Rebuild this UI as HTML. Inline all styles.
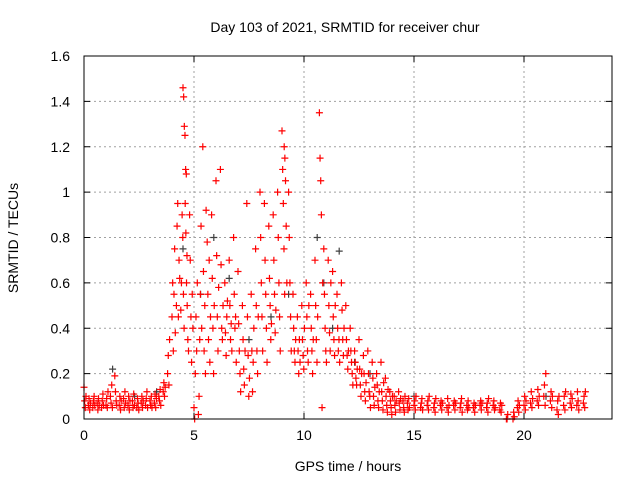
<!DOCTYPE html>
<html><head><meta charset="utf-8"><style>
body{margin:0;background:#fff}
svg text{font-family:"Liberation Sans",sans-serif;font-size:14px;fill:#000}
</style></head><body>
<svg id="c" width="640" height="480">
<text x="345" y="32" text-anchor="middle">Day 103 of 2021, SRMTID for receiver chur</text>
<text x="348" y="471" text-anchor="middle">GPS time / hours</text>
<text transform="translate(18,238) rotate(-90)" text-anchor="middle">SRMTID / TECUs</text>
<g id="grid"></g><g id="gray"></g><g id="red"></g><g id="axes"></g>
</svg>
<script>
const xTicks=[0,5,10,15,20];
const yTicks=[0,0.2,0.4,0.6,0.8,1,1.2,1.4,1.6];
const yTickLabels=["0","0.2","0.4","0.6","0.8","1","1.2","1.4","1.6"];
const redT=[0,0.2,0.4,0.6,0.8,1.0,1.2,1.4,1.6,1.8,2.0,2.2,2.4,2.6,2.8,3.0,3.2,3.4,3.6,3.8,4.0,4.2,4.4,4.5,4.6,4.8,5.0,5.2,5.4,5.6,5.8,6.0,6.2,6.4,6.6,6.8,7.0,7.2,7.4,7.6,7.8,8.0,8.2,8.4,8.6,8.8,9.0,9.1,9.3,9.5,9.7,9.9,10.1,10.3,10.5,10.7,10.9,11.1,11.3,11.5,11.7,11.9,12.1,12.3,12.5,12.7,12.9,13.1,13.3,13.5,13.7,13.9,14.1,14.3,14.5,14.7,15.0,15.3,15.6,15.9,16.2,16.5,16.8,17.1,17.4,17.7,18.0,18.3,18.6,18.9,19.2,19.5,19.7,20.0,20.3,20.6,20.9,21.2,21.5,21.8,22.1,22.4,22.7];
const redV=[[.14,.08,.05,.1],[.06,.09,.04,.07],[.05,.08,.1,.06],[.07,.04,.09,.06],[.05,.08,.11,.06],[.06,.09,.05,.12],[.1,.07,.15,.05],[.19,.12,.08,.06],[.06,.1,.04,.08],[.09,.05,.12,.07],[.06,.1,.04,.08],[.08,.05,.11,.06],[.05,.09,.07,.04],[.07,.1,.05,.08],[.06,.09,.12,.05],[.08,.06,.1,.05],[.07,.11,.05,.09],[.1,.08,.13,.06],[.12,.16,.1,.14],[.2,.28,.15,.35],[.45,.6,.3,.55,.75,.38],[.5,.85,.95,.45,.7,.62],[.48,.6,.9,.8,.55,.4],[1.46,1.42,1.29,1.25,1.1,1.08,.72],[.95,.82,.6,.5,.35,.3],[.9,.7,.45,.25,.55,.4],[.05,0,.2,.45,.3,.6],[.02,.1,.35,.55,.85,.4],[1.2,.65,.3,.5,.2,.92],[.78,.55,.35,.7,.25,.45],[.9,.62,.4,.2,.5],[1.05,.72,.45,.3,.58],[1.1,.68,.4,.35,.5],[.6,.38,.28,.45,.52],[.7,.5,.35,.42,.3],[.8,.55,.4,.45,.25],[.65,.42,.3,.2,.12],[.5,.35,.22,.15,.3],[.95,.45,.28,.1,.18],[.55,.3,.12,.25,.4],[.75,.5,.3,.2,.45],[1.0,.8,.6,.45,.3],[.95,.7,.55,.4,.25],[.85,.62,.5,.35,.42],[.9,.7,.55,.38,.48],[1.0,.8,.6,.45,.3],[1.27,1.1,.95,.75,.55],[1.2,1.15,1.05,.85,.6],[1.0,.8,.6,.45,.3],[.55,.4,.3,.25,.35],[.45,.3,.2,.35,.25],[.5,.35,.28,.22,.4],[.6,.45,.3,.25,.5],[.55,.4,.3,.2,.35],[.7,.5,.35,.25,.45],[1.35,1.15,1.05,.9,.05,.6],[.75,.55,.4,.3,.25],[.7,.5,.38,.3,.6],[.65,.45,.35,.28,.5],[.55,.4,.3,.35,.25],[.6,.48,.35,.28,.4],[.5,.35,.28,.22,.3],[.4,.3,.25,.2,.15],[.3,.25,.18,.15,.22],[.35,.22,.15,.1,.2],[.28,.2,.12,.08,.16],[.3,.2,.12,.1,.05],[.25,.18,.1,.06,.14],[.2,.15,.08,.05,.12],[.25,.12,.08,.04,.16],[.18,.1,.06,.03,.13],[.12,.08,.05,.02,.1],[.1,.06,.03,.08],[.12,.07,.04,.09],[.08,.05,.03,.1],[.07,.04,.09,.05],[.06,.08,.04,.1],[.05,.07,.09,.04],[.06,.08,.04,.1],[.05,.07,.03,.09],[.06,.08,.04,.07],[.05,.09,.03,.06],[.06,.08,.04,.07],[.05,.07,.09,.03],[.06,.04,.08,.05],[.05,.07,.03,.06],[.06,.08,.04,.07],[.05,.07,.03,.09],[.06,.08,.04,.05],[.04,.07,.03,.06],[0,0,.02],[0,.03,.01],[.05,.08,.03,.06],[.06,.1,.04,.08],[.07,.12,.05,.09],[.08,.13,.06,.1],[.1,.15,.06,.2],[.08,.12,.05,.1],[.04,.08,.02,.1],[.06,.1,.04,.12],[.07,.11,.05,.09],[.06,.12,.08,.04],[.07,.1,.05,.12]];
const grayT=[1.3,2.3,3.3,4.5,5.3,5.9,6.6,7.5,8.5,9.3,10.6,10.9,11.3,11.6,12.3,13.0,15.0,21.0];
const grayV=[.22,.1,.12,.75,.55,.8,.62,.35,.45,.55,.8,.6,.4,.74,.25,.2,.1,.1];
const L=84,R=612,T=56,B=419;
const xs=v=>L+v*(R-L)/24, ys=v=>B-v*(B-T)/1.6;
const NS='http://www.w3.org/2000/svg';
function mk(tag,attrs,parent){const e=document.createElementNS(NS,tag);for(const k in attrs)e.setAttribute(k,attrs[k]);parent.appendChild(e);return e;}
const grid=document.getElementById('grid'),axes=document.getElementById('axes');
xTicks.forEach(t=>{const x=xs(t);
 if(t>0){const g=mk('line',{x1:x,x2:x,y1:T,y2:B,stroke:'#a0a0a0','stroke-dasharray':'2,3'},grid);
 
 }
 const k=mk('line',{x1:x,x2:x,y1:B,y2:B-6,stroke:'#000'},axes);
 
 
 const k2=mk('line',{x1:x,x2:x,y1:T,y2:T+6,stroke:'#000'},axes);
 
 
 const tx=mk('text',{x:x,y:B+21,'text-anchor':'middle'},axes);tx.textContent=String(t);
 
 
});
yTicks.forEach((t,i)=>{const y=ys(t);
 if(t>0&&t<1.6){const g=mk('line',{x1:L,x2:R,y1:y,y2:y,stroke:'#a0a0a0','stroke-dasharray':'2,3'},grid);
 
 }
 const k=mk('line',{x1:L,x2:L+6,y1:y,y2:y,stroke:'#000'},axes);
 
 
 const k2=mk('line',{x1:R,x2:R-6,y1:y,y2:y,stroke:'#000'},axes);
 
 
 const tx=mk('text',{x:L-14,y:y+5,'text-anchor':'end'},axes);tx.textContent=yTickLabels[i];
 
 
});
const fr=mk('rect',{x:L,y:T,width:R-L,height:B-T,fill:'none',stroke:'#000'},axes);


function plus(g,t,v,col,name){const x=xs(t),y=ys(v);
 const p=mk('path',{d:`M${x-3.5},${y}H${x+3.5}M${x},${y-3.5}V${y+3.5}`,stroke:col,'stroke-width':1.2,fill:'none'},g);
 
 }
const gg=document.getElementById('gray');
grayT.forEach((t,i)=>plus(gg,t,grayV[i],'#404040','gray-point'));
const rg=document.getElementById('red');
redT.forEach((t,i)=>redV[i].forEach((v,j)=>plus(rg,t+j*0.03,v,'#ff0000','red-point')));
</script>
</body></html>
